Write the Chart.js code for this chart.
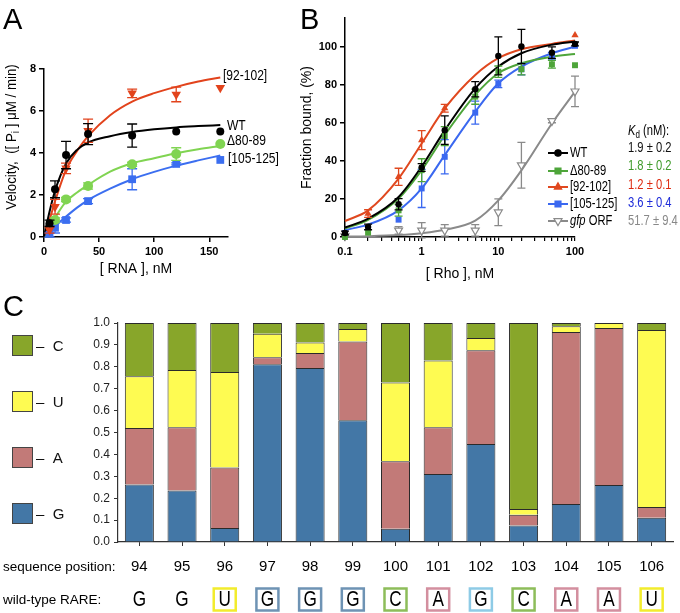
<!DOCTYPE html>
<html lang="en">
<head>
<meta charset="UTF-8" />
<style>
  body { margin: 0; background: #fff; font-family: "Liberation Sans", Arial, sans-serif; }
  #page { position: relative; width: 680px; height: 613px; overflow: hidden; background: #fff; }
  canvas { position: absolute; }
  .panel { position: absolute; font-size: 29px; line-height: 29px; color: #000; }
  .key { position: absolute; left: 12px; width: 19px; height: 19px; border: 1px solid #444; }
  .keylabel { position: absolute; left: 36px; font-size: 15px; line-height: 21px; color: #111; }
</style>
</head>
<body>
<div id="page">
  <canvas id="chartA" width="292" height="290" style="left:0;top:0"></canvas>
  <canvas id="chartB" width="388" height="290" style="left:292px;top:0"></canvas>
  <canvas id="chartC" width="680" height="323" style="left:0;top:290px"></canvas>
  <div class="panel" style="left:3px;top:5px">A</div>
  <div class="panel" style="left:300px;top:5px">B</div>
  <div class="panel" style="left:3px;top:292px">C</div>
  <div class="key" style="top:335px;background:#88a62a"></div><div class="keylabel" style="top:335px">–&nbsp;&nbsp;C</div>
  <div class="key" style="top:391px;background:#fefb52"></div><div class="keylabel" style="top:391px">–&nbsp;&nbsp;U</div>
  <div class="key" style="top:447px;background:#c27a78"></div><div class="keylabel" style="top:447px">–&nbsp;&nbsp;A</div>
  <div class="key" style="top:503px;background:#4377a6"></div><div class="keylabel" style="top:503px">–&nbsp;&nbsp;G</div>
</div>
<script src="https://cdn.jsdelivr.net/npm/chart.js@4.4.1/dist/chart.umd.min.js"></script>
<script>
// ---- panel A: ATPase velocity vs RNA ----
var rnaConc = [5, 10, 20, 40, 80, 120, 160];
var velWT = [0.65, 2.27, 3.9, 4.9, 4.83, 5.02, 5.02];
var errWT = [0.15, 0.4, 0.65, 0.5, 0.55, 0, 0];
var velD80 = [null, 0.81, 1.79, 2.43, 3.46, 3.95, 4.43];
var errD80 = [0, 0.1, 0.1, 0.15, 0.1, 0.3, 0];
var vel92 = [0.33, 1.44, 3.27, 5.06, 6.84, 6.79, 7.11];
var err92 = [0.15, 0.35, 0.25, 0.55, 0.2, 0.35, 0];
var vel105 = [0.1, 0.44, 0.81, 1.71, 2.75, 3.48, 3.67];
var err105 = [0.1, 0.25, 0.1, 0.12, 0.5, 0.05, 0];

var fitRna = [0, 5, 10, 20, 30, 40, 60, 80, 100, 120, 140, 160];
var fitWT = [0, 1.2, 2.2, 3.5, 4.15, 4.5, 4.8, 5.0, 5.13, 5.22, 5.28, 5.33];
var fit92 = [0, 0.8, 1.7, 3.2, 4.1, 4.8, 5.8, 6.45, 6.85, 7.15, 7.4, 7.6];
var fitD80 = [0, 0.33, 0.89, 1.68, 2.12, 2.48, 3.11, 3.51, 3.75, 3.99, 4.18, 4.33];
var fit105 = [0, 0.17, 0.49, 0.97, 1.4, 1.76, 2.3, 2.75, 3.1, 3.4, 3.65, 3.88];

// ---- panel B: fraction bound vs Rho ----
var rhoConc = [0.1, 0.2, 0.5, 1, 2, 5, 10, 20, 50, 100];
var bWT = [2.1, 5.3, 17.2, 36.5, 56.1, 77.6, 95.1, 100, 96.8, 101.4];
var eWT = [1, 1.5, 3, 2, 7.5, 4, 10, 9, 3, 1];
var bD80 = [0, 2.3, 14, 35.1, 53, 73.7, 86.8, 88.1, 90.7, 90.2];
var eD80 = [0, 0, 3, 6, 5, 4, 3, 3, 2, 0];
var b92 = [null, 12.3, 31.6, 50.9, 67.6, null, null, null, null, 106];
var e92 = [0, 2, 4.5, 5, 2, 0, 0, 0, 0, 0];
var b105 = [2.1, null, 9.1, 25.5, 42.1, 65.3, 80.4, 88.1, 95, 100.4];
var e105 = [0, 0, 0, 10, 9, 6, 2, 3, 2, 0];
var bGfp = [0.5, null, 3.5, 3.5, 3.5, 3.5, 13, 37.7, 61, 76.5];
var eGfp = [0, 0, 2, 4, 3, 3, 7, 12, 1, 8];

var cWT = [5, 9.6, 21, 37, 56, 78, 89.5, 96.5, 101, 102.7];
var c92 = [8.4, 14, 30.7, 49.1, 67.5, 85.1, 93.9, 98.6, 101.4, 103.2];
var cD80 = [4.5, 9, 20.2, 35.1, 53.5, 74.6, 86, 91.2, 94.7, 96.1];
var c105 = [3.7, 6.5, 14, 25.5, 43, 65.8, 80.7, 89.5, 96.5, 100];
var cGfp = [0.2, 0.4, 1, 2, 3.8, 8.6, 19.2, 35, 59.6, 76.3];

var seriesNames = ["WT", "Δ80-89", "[92-102]", "[105-125]", "gfp ORF"];
var kdValues = ["1.9 ± 0.2", "1.8 ± 0.2", "1.2 ± 0.1", "3.6 ± 0.4", "51.7 ± 9.4"];

// ---- panel C: nucleotide frequency per position ----
var positions = ["94", "95", "96", "97", "98", "99", "100", "101", "102", "103", "104", "105", "106"];
var fracG = [0.263, 0.235, 0.064, 0.812, 0.794, 0.556, 0.061, 0.31, 0.447, 0.075, 0.173, 0.26, 0.111];
var fracA = [0.258, 0.289, 0.276, 0.032, 0.069, 0.36, 0.308, 0.214, 0.429, 0.05, 0.786, 0.717, 0.049];
var fracU = [0.236, 0.261, 0.436, 0.107, 0.048, 0.057, 0.359, 0.305, 0.055, 0.026, 0.026, 0.023, 0.808];
var fracC = [0.243, 0.215, 0.224, 0.049, 0.089, 0.027, 0.272, 0.171, 0.069, 0.849, 0.015, null, 0.032];
var wtRare = ["G", "G", "U", "G", "G", "G", "C", "A", "G", "C", "A", "A", "U"];
var rareBox = [null, null, "#f2ec2c", "#6e93b4", "#6e93b4", "#6e93b4", "#8dbd5a", "#d38f9f", "#8ecbe6", "#8dbd5a", "#d38f9f", "#d38f9f", "#f2ec2c"];

var FONT = '"Liberation Sans", Arial, sans-serif';
Chart.defaults.font.family = FONT;
Chart.defaults.color = "#000";
Chart.defaults.animation = false;

function pts(xs, ys) {
  return xs.map(function (x, i) { return { x: x, y: ys[i] }; });
}

// text squeezed horizontally (the figure's labels are condensed)
function narrowText(ctx, text, x, y, font, sx) {
  ctx.save();
  ctx.font = font;
  ctx.translate(x, y);
  ctx.scale(sx, 1);
  ctx.fillText(text, 0, 0);
  var w = ctx.measureText(text).width * sx;
  ctx.restore();
  return w;
}

// vertical error bars, drawn just before each dataset's markers
var errorBars = {
  id: "errorBars",
  beforeDatasetDraw: function (chart, args) {
    var ds = chart.data.datasets[args.index];
    if (!ds.errors) return;
    var xs = chart.scales.x, ys = chart.scales.y, ctx = chart.ctx;
    var cap = ds.capWidth || 4;
    ctx.save();
    ctx.strokeStyle = ds.borderColor;
    ctx.lineWidth = 1.3;
    ds.data.forEach(function (p, i) {
      var e = ds.errors[i];
      if (p.y == null || !e) return;
      var x = xs.getPixelForValue(p.x);
      var y1 = ys.getPixelForValue(p.y - e), y2 = ys.getPixelForValue(p.y + e);
      ctx.beginPath();
      ctx.moveTo(x, y1); ctx.lineTo(x, y2);
      ctx.moveTo(x - cap, y1); ctx.lineTo(x + cap, y1);
      ctx.moveTo(x - cap, y2); ctx.lineTo(x + cap, y2);
      ctx.stroke();
    });
    ctx.restore();
  }
};

function axisStyle(extra) {
  var base = {
    border: { color: "#000", width: 1.5 },
    grid: { drawOnChartArea: false, color: "#000", tickLength: 5, lineWidth: 1.5 },
    ticks: { font: { size: 11, weight: "bold" }, color: "#000", padding: 3 }
  };
  return Object.assign(base, extra);
}

// ---------- chart A ----------
var labelsA = {
  id: "labelsA",
  afterDraw: function (chart) {
    var ctx = chart.ctx;
    ctx.save();
    ctx.fillStyle = "#000";
    ctx.textBaseline = "middle";
    var f = "14px " + FONT;
    narrowText(ctx, "[92-102]", 223, 76, f, 0.86);
    narrowText(ctx, "WT", 227, 126, f, 0.86);
    narrowText(ctx, "Δ80-89", 227, 141, f, 0.86);
    narrowText(ctx, "[105-125]", 228, 159, f, 0.86);
    // rotated y title with subscript
    ctx.translate(12, 137);
    ctx.rotate(-Math.PI / 2);
    ctx.scale(0.95, 1);
    var parts = [["Velocity,  ([ P", 14, 0], ["i", 10, 4], [" ] μM / min)", 14, 0]];
    var total = 0;
    parts.forEach(function (p) { ctx.font = p[1] + "px " + FONT; total += ctx.measureText(p[0]).width; });
    var x = -total / 2;
    parts.forEach(function (p) {
      ctx.font = p[1] + "px " + FONT;
      ctx.fillText(p[0], x, p[2]);
      x += ctx.measureText(p[0]).width;
    });
    ctx.restore();
  }
};

new Chart(document.getElementById("chartA"), {
  type: "line",
  data: {
    datasets: [
      { data: pts(rnaConc, velWT), errors: errWT, capWidth: 5, showLine: false, borderColor: "#000", backgroundColor: "#000", pointStyle: "circle", pointRadius: 4, pointBorderWidth: 0 },
      { data: pts(rnaConc, vel92), errors: err92, capWidth: 5, showLine: false, borderColor: "#e2431c", backgroundColor: "#e2431c", pointStyle: "triangle", rotation: 180, pointRadius: 5.5, pointBorderWidth: 0 },
      { data: pts(rnaConc, velD80), errors: errD80, capWidth: 5, showLine: false, borderColor: "#80d452", backgroundColor: "#80d452", pointStyle: "circle", pointRadius: 5, pointBorderWidth: 0 },
      { data: pts(rnaConc, vel105), errors: err105, capWidth: 5, showLine: false, borderColor: "#3b6ef0", backgroundColor: "#3b6ef0", pointStyle: "rect", pointRadius: 5.5, pointBorderWidth: 0 },
      { data: pts(fitRna, fitWT), borderColor: "#000", borderWidth: 2, pointRadius: 0, cubicInterpolationMode: "monotone" },
      { data: pts(fitRna, fit92), borderColor: "#e2431c", borderWidth: 2, pointRadius: 0, cubicInterpolationMode: "monotone" },
      { data: pts(fitRna, fitD80), borderColor: "#80d452", borderWidth: 2, pointRadius: 0, cubicInterpolationMode: "monotone" },
      { data: pts(fitRna, fit105), borderColor: "#3b6ef0", borderWidth: 2, pointRadius: 0, cubicInterpolationMode: "monotone" }
    ]
  },
  options: {
    responsive: false,
    layout: { padding: { left: 0, right: 64, top: 69, bottom: 0 } },
    plugins: { legend: { display: false }, tooltip: { enabled: false } },
    scales: {
      x: axisStyle({
        type: "linear", min: 0, max: 167,
        ticks: { font: { size: 11, weight: "bold" }, color: "#000", padding: 3, stepSize: 50, includeBounds: false },
        afterFit: function (s) { s.height = 53; },
        title: { display: true, text: "[ RNA ], nM", font: { size: 14 }, padding: 12 }
      }),
      y: axisStyle({
        min: 0, max: 8,
        ticks: { font: { size: 11, weight: "bold" }, color: "#000", padding: 3, stepSize: 2 },
        afterFit: function (s) { s.width = 44; }
      })
    }
  },
  plugins: [errorBars, labelsA]
});
</script>
<script>
// ---------- chart B ----------
var colB = ["#000", "#4ea53a", "#e0481f", "#3a68f0", "#8a8a8a"];
var kdCol = ["#111", "#3f9a2a", "#dd2a10", "#1c2ad8", "#888"];
var styleB = [
  { pointStyle: "circle", radius: 3.2, rotation: 0, fill: true },
  { pointStyle: "rect", radius: 4.2, rotation: 0, fill: true },
  { pointStyle: "triangle", radius: 4.2, rotation: 0, fill: true },
  { pointStyle: "rect", radius: 4.2, rotation: 0, fill: true },
  { pointStyle: "triangle", radius: 4.6, rotation: 180, fill: false }
];

var legendB = {
  id: "legendB",
  afterDraw: function (chart) {
    var ctx = chart.ctx;
    var rows = [153, 171, 187, 204, 221];
    var kdRows = [148, 166, 185, 203, 221];
    var f = "14px " + FONT, fi = "italic 14px " + FONT, sx = 0.8;
    ctx.save();
    ctx.textBaseline = "middle";
    seriesNames.forEach(function (name, i) {
      var y = rows[i];
      ctx.strokeStyle = colB[i];
      ctx.fillStyle = styleB[i].fill ? colB[i] : "#fff";
      ctx.lineWidth = 2;
      ctx.beginPath(); ctx.moveTo(256, y); ctx.lineTo(276, y); ctx.stroke();
      ctx.lineWidth = 1.2;
      Chart.helpers.drawPoint(ctx, { pointStyle: styleB[i].pointStyle, radius: styleB[i].radius, rotation: styleB[i].rotation, borderWidth: 1.2 }, 266, y);
      ctx.fillStyle = "#000";
      var x = 278;
      if (name.indexOf("gfp") === 0) {
        x += narrowText(ctx, "gfp ", x, y, fi, sx);
        name = name.slice(4);
      }
      narrowText(ctx, name, x, y, f, sx);
      ctx.fillStyle = kdCol[i];
      narrowText(ctx, kdValues[i], 336, kdRows[i], f, sx);
    });
    ctx.fillStyle = "#000";
    var x = 336;
    x += narrowText(ctx, "K", x, 131, fi, sx);
    x += narrowText(ctx, "d", x, 135, "10px " + FONT, sx);
    narrowText(ctx, " (nM):", x, 131, f, sx);
    ctx.restore();
  }
};

function curveB(ys, i) {
  return { data: pts(rhoConc, ys), borderColor: colB[i], borderWidth: 2, pointRadius: 0, cubicInterpolationMode: "monotone" };
}
function pointsB(ys, errs, i) {
  return {
    data: pts(rhoConc, ys), errors: errs, capWidth: 4, showLine: false,
    borderColor: colB[i], backgroundColor: styleB[i].fill ? colB[i] : "#fff",
    pointStyle: styleB[i].pointStyle, rotation: styleB[i].rotation, pointRadius: styleB[i].radius,
    pointBorderWidth: styleB[i].fill ? 0 : 1.2
  };
}

new Chart(document.getElementById("chartB"), {
  type: "line",
  data: {
    datasets: [
      pointsB(bWT, eWT, 0), pointsB(b92, e92, 2), pointsB(bD80, eD80, 1), pointsB(b105, e105, 3), pointsB(bGfp, eGfp, 4),
      curveB(cWT, 0), curveB(c92, 2), curveB(cD80, 1), curveB(c105, 3), curveB(cGfp, 4)
    ]
  },
  options: {
    responsive: false,
    clip: false,
    layout: { padding: { left: 0, right: 105, top: 18, bottom: 0 } },
    plugins: { legend: { display: false }, tooltip: { enabled: false } },
    scales: {
      x: axisStyle({
        type: "logarithmic", min: 0.1, max: 100,
        grid: { drawOnChartArea: false, color: "#000", tickLength: 4, lineWidth: 1.2 },
        ticks: {
          font: { size: 11, weight: "bold" }, color: "#000", padding: 4, autoSkip: false, maxRotation: 0,
          callback: function (v) {
            var l = Math.log10(v);
            return Math.abs(l - Math.round(l)) < 1e-6 ? String(+v.toPrecision(3)) : "";
          }
        },
        afterFit: function (s) { s.height = 53; },
        title: { display: true, text: "[ Rho ], nM", font: { size: 14 }, padding: 7 }
      }),
      y: axisStyle({
        min: 0, max: 115,
        ticks: { font: { size: 11, weight: "bold" }, color: "#000", padding: 3, stepSize: 20, includeBounds: false },
        afterBuildTicks: function (s) { s.ticks = s.ticks.filter(function (t) { return t.value <= 100; }); },
        afterFit: function (s) { s.width = 53; },
        title: { display: true, text: "Fraction bound, (%)", font: { size: 14 }, padding: 7 }
      })
    }
  },
  plugins: [errorBars, legendB]
});
</script>
<script>
// ---------- chart C ----------
var rareRow = {
  id: "rareRow",
  afterDraw: function (chart) {
    var ctx = chart.ctx, xs = chart.scales.x;
    ctx.save();
    ctx.textBaseline = "middle";
    ctx.fillStyle = "#000";
    ctx.font = "13.5px " + FONT;
    ctx.fillText("sequence position:", 3, 277);
    ctx.fillText("wild-type RARE:", 3, 310);
    ctx.textAlign = "center";
    wtRare.forEach(function (letter, i) {
      var x = xs.getPixelForValue(i);
      if (rareBox[i]) {
        ctx.strokeStyle = rareBox[i];
        ctx.lineWidth = 2.5;
        ctx.strokeRect(x - 11, 298.5, 22, 22);
      }
      ctx.fillStyle = "#000";
      narrowText(ctx, letter, x, 310, "22px " + FONT, 0.78);
    });
    ctx.restore();
  }
};

function stackC(vals, color) {
  return { data: vals, backgroundColor: color, borderColor: "#2a2a2a", borderWidth: 1, barPercentage: 0.68, categoryPercentage: 1 };
}

new Chart(document.getElementById("chartC"), {
  type: "bar",
  data: {
    labels: positions,
    datasets: [
      stackC(fracG, "#4377a6"),
      stackC(fracA, "#c27a78"),
      stackC(fracU, "#fefb52"),
      stackC(fracC, "#88a62a")
    ]
  },
  options: {
    responsive: false,
    layout: { padding: { left: 80, right: 7, top: 33, bottom: 0 } },
    plugins: { legend: { display: false }, tooltip: { enabled: false } },
    scales: {
      x: {
        stacked: true,
        border: { color: "#333", width: 1.2 },
        grid: { drawOnChartArea: false, offset: false, color: "#333", tickLength: 4 },
        ticks: { font: { size: 15 }, color: "#000", padding: 12, maxRotation: 0, autoSkip: false },
        afterFit: function (s) { s.height = 71; }
      },
      y: {
        stacked: true, min: 0, max: 1,
        border: { color: "#333", width: 1.2 },
        grid: { drawOnChartArea: false, color: "#333", tickLength: 4 },
        ticks: { stepSize: 0.1, font: { size: 12 }, color: "#222", padding: 4, callback: function (v) { return v.toFixed(1); } },
        afterFit: function (s) { s.width = 38; }
      }
    }
  },
  plugins: [rareRow]
});
</script>
</body>
</html>
